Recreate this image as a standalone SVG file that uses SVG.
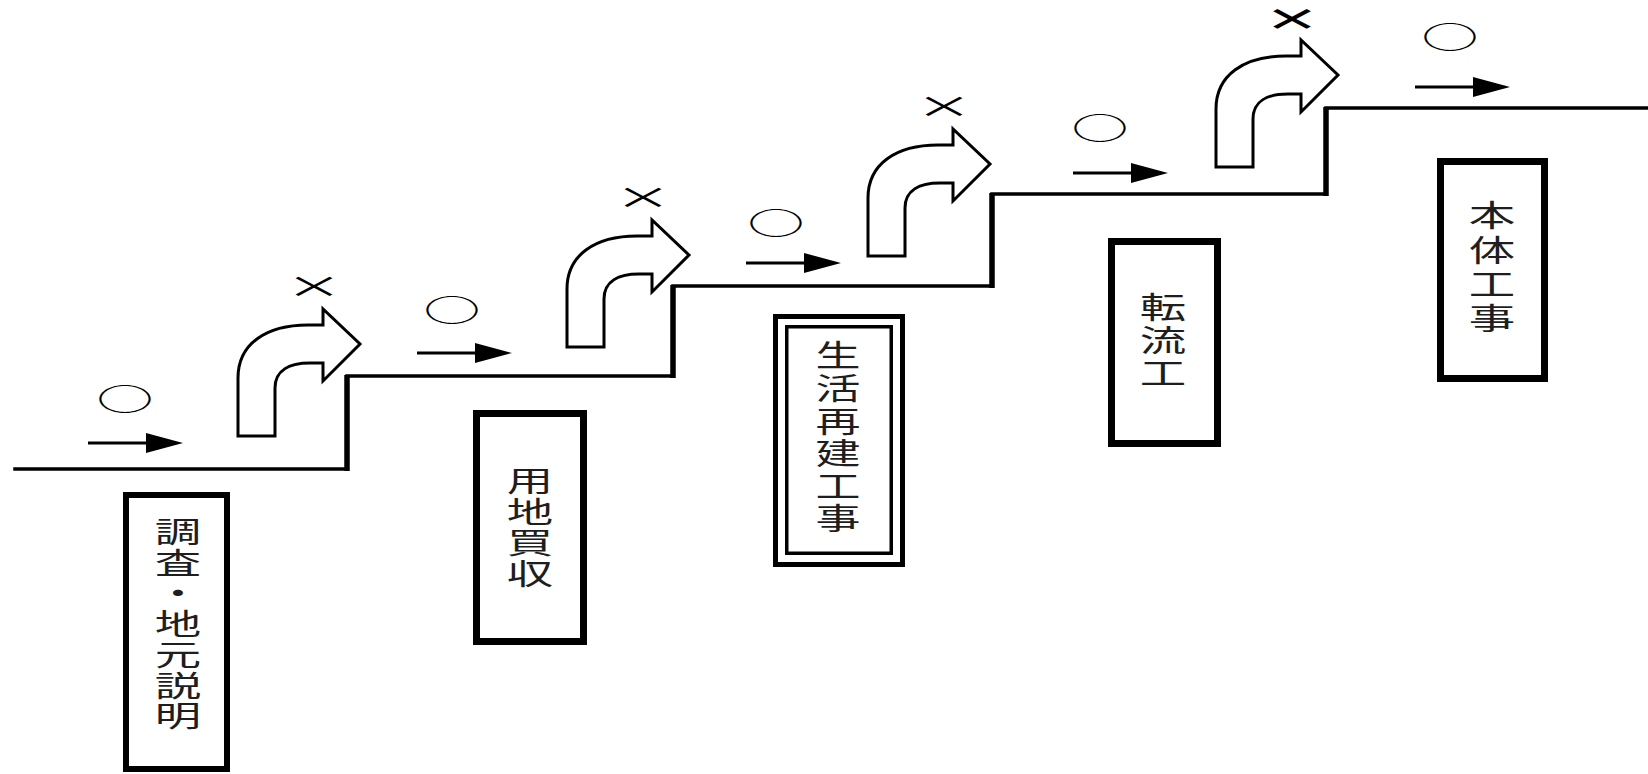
<svg xmlns="http://www.w3.org/2000/svg" xmlns:xlink="http://www.w3.org/1999/xlink" width="1648" height="774" viewBox="0 0 1648 774">
<style>
.stair{fill:none;stroke:#000;stroke-width:3.5;stroke-linecap:square}
.riser{fill:none;stroke:#000;stroke-width:5.5}
.box{fill:#fff;stroke:#000}
.lbl{font-family:"Noto Sans CJK JP","Noto Sans CJK SC",sans-serif;font-size:30px;fill:#1e1e1e;text-anchor:start;writing-mode:vertical-rl}
.sym{font-family:"Noto Sans CJK JP",sans-serif;font-size:30px;fill:#000;text-anchor:middle}
.curv{fill:#fff;stroke:#000;stroke-width:3;stroke-linejoin:miter}
</style>
<defs>
<path id="curved" d="M0,0 L0,-58 C0,-92 28,-111 70,-111 L85,-111 L85,-127 L122,-92 L85,-55 L85,-73 L72,-73 C52,-73 37,-66 37,-48 L37,0 Z"/>
<g id="smallArrow">
<line x1="0" y1="0" x2="62" y2="0" stroke="#000" stroke-width="3"/>
<polygon points="58,-10 95,0 58,10" fill="#000"/>
</g>
</defs>
<rect width="1648" height="774" fill="#fff"/>
<g id="connectors">
<path class="stair" d="M15,469 H347 M347,376 H673 M673,286 H992 M992,194 H1326 M1326,108 H1648"/>
<path class="riser" d="M347,471 V375 M673,378 V285 M992,288 V193 M1326,196 V107"/>
<use xlink:href="#smallArrow" x="88" y="443"/>
<use xlink:href="#smallArrow" x="417" y="353"/>
<use xlink:href="#smallArrow" x="746" y="263"/>
<use xlink:href="#smallArrow" x="1073" y="173"/>
<use xlink:href="#smallArrow" x="1415" y="87"/>
<use xlink:href="#curved" class="curv" x="238" y="436"/>
<use xlink:href="#curved" class="curv" x="567" y="347"/>
<use xlink:href="#curved" class="curv" x="868" y="256"/>
<use xlink:href="#curved" class="curv" x="1216" y="167"/>
</g>
<g id="marks">
<text class="sym" transform="translate(125,410) scale(1.9,1)">○</text>
<text class="sym" transform="translate(452,321) scale(1.9,1)">○</text>
<text class="sym" transform="translate(776,234) scale(1.9,1)">○</text>
<text class="sym" transform="translate(1100,139) scale(1.9,1)">○</text>
<text class="sym" transform="translate(1450,48) scale(1.9,1)">○</text>
<text class="sym" transform="translate(314,297) scale(1.9,1)">×</text>
<text class="sym" transform="translate(643,208) scale(1.9,1)">×</text>
<text class="sym" transform="translate(944,117) scale(1.9,1)">×</text>
<text class="sym" transform="translate(1292,30) scale(1.9,1)" style="font-weight:bold">×</text>
</g>
<g id="node-chousa">
<rect class="box" x="126" y="495" width="101" height="274" stroke-width="6"/>
<text class="lbl" transform="translate(178,0) scale(1.6,1)" x="0" y="517.5" style="font-size:29px;letter-spacing:1.7px">調査・地元説明</text>
</g>
<g id="node-youchi">
<rect class="box" x="476.5" y="413.5" width="107" height="228" stroke-width="7"/>
<text class="lbl" transform="translate(530,0) scale(1.6,1)" x="0" y="466.5" style="font-size:29px;letter-spacing:2px">用地買収</text>
</g>
<g id="node-seikatsu">
<rect class="box" x="775.5" y="316.5" width="127" height="248" stroke-width="5"/>
<rect class="box" x="786.75" y="326.75" width="104.5" height="226.5" stroke-width="3.5"/>
<text class="lbl" transform="translate(838,0) scale(1.5,1)" x="0" y="340" style="letter-spacing:2.6px">生活再建工事</text>
</g>
<g id="node-tenryu">
<rect class="box" x="1111.5" y="241.5" width="106" height="202" stroke-width="7"/>
<text class="lbl" transform="translate(1163,0) scale(1.55,1)" x="0" y="292" style="letter-spacing:3px">転流工</text>
</g>
<g id="node-hontai">
<rect class="box" x="1440.5" y="161.5" width="104" height="217" stroke-width="7"/>
<text class="lbl" transform="translate(1492,0) scale(1.55,1)" x="0" y="200" style="letter-spacing:4.3px">本体工事</text>
</g>
</svg>
